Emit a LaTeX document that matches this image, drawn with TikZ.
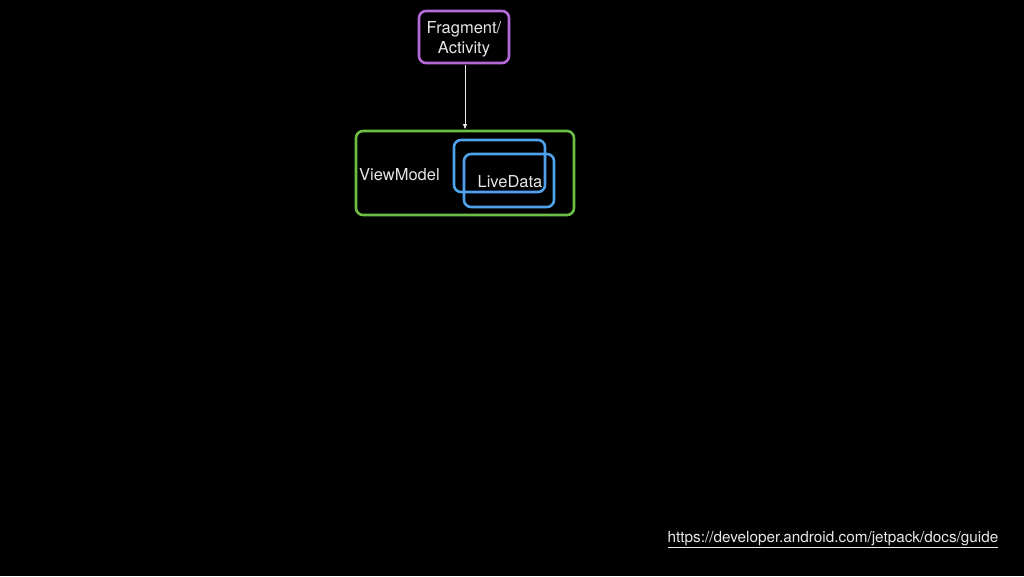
\documentclass[tikz,border=0pt]{standalone}
\usepackage{fontspec}
\setmainfont{TeX Gyre Heros}
\usetikzlibrary{arrows.meta}
\definecolor{purp}{HTML}{B56AD8}
\definecolor{grn}{HTML}{6CBF44}
\definecolor{blu}{HTML}{4FA2EA}
\definecolor{txt}{HTML}{E6E6E6}
\begin{document}
\begin{tikzpicture}[x=1pt,y=-1pt,
  box/.style={draw, line width=2.6pt, rounded corners=7pt},
  lbl/.style={text=txt, font=\fontsize{16.5}{20}\selectfont, inner sep=0pt}]
\fill[black] (0,0) rectangle (1024,576);
\useasboundingbox (0,0) rectangle (1024,576);
\draw[box, purp] (419,11) rectangle (509,63);
\node[lbl, align=center] (frag) at (464,39) {Fragment/\\Activity};
\coordinate (fragb) at (465,65);
\draw[box, grn] (356,131) rectangle (574,215);
\coordinate (vmt) at (465,129);
\draw[box, blu] (454,140) rectangle (545,192);
\draw[box, blu] (464,154) rectangle (554,207);
\node[lbl, anchor=west] (vm) at (359,175) {ViewModel};
\node[lbl] (ld) at (510,182) {LiveData};
\draw[txt!80, line width=0.8pt, -{Triangle[length=5pt,width=4pt]}] (fragb) -- (vmt);
\node[text=txt!90, font=\fontsize{15.3}{17}\selectfont, inner sep=0pt] (url) at (833,540) {\underline{https://developer.android.com/jetpack/docs/guide}};
\end{tikzpicture}
\end{document}
